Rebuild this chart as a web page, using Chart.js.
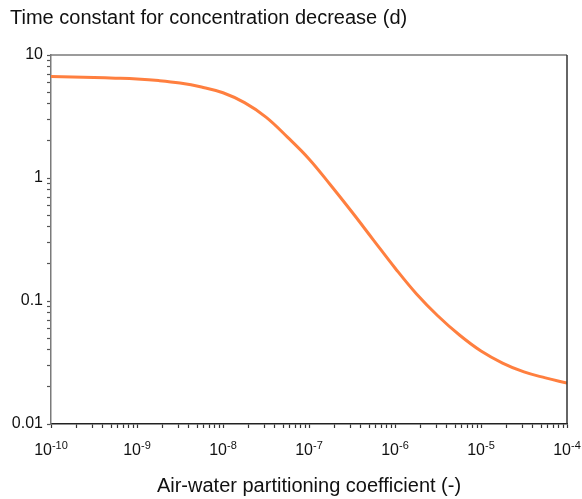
<!DOCTYPE html>
<html>
<head>
<meta charset="utf-8">
<script src="https://cdn.jsdelivr.net/npm/chart.js@4/dist/chart.umd.min.js"></script>
<style>
  html, body { margin: 0; padding: 0; background: #fff; }
  #wrap { width: 582px; height: 499px; }
</style>
</head>
<body>
<div id="wrap"><canvas id="tauChart"></canvas></div>
<script>
// Kaw values (-), quarter decades from 1e-10 to 1e-4
var kaw = [1e-10, 1.78e-10, 3.16e-10, 5.62e-10, 1e-9, 1.78e-9, 3.16e-9, 5.62e-9,
           1e-8, 1.78e-8, 3.16e-8, 5.62e-8, 1e-7, 1.78e-7, 3.16e-7, 5.62e-7,
           1e-6, 1.78e-6, 3.16e-6, 5.62e-6, 1e-5, 1.78e-5, 3.16e-5, 5.62e-5, 1e-4];
// time constant (d)
var tau = [6.69, 6.62, 6.55, 6.48, 6.38, 6.20, 5.92, 5.49,
           4.93, 4.10, 3.13, 2.15, 1.43, 0.877, 0.529, 0.313,
           0.1855, 0.114, 0.0755, 0.0529, 0.0392, 0.0313, 0.0265, 0.0237, 0.0215];

var xDecades = [1e-10, 1e-9, 1e-8, 1e-7, 1e-6, 1e-5, 1e-4];
var xExponents = ['-10', '-9', '-8', '-7', '-6', '-5', '-4'];
var yDecades = [0.01, 0.1, 1, 10];
var yLabels = ['0.01', '0.1', '1', '10'];
var minorSteps = [2, 3, 4, 5, 6, 7, 8, 9];

var FONT = '"Liberation Sans", Arial, sans-serif';

function logTicks(decades) {
    var out = [];
    decades.forEach(function(d, i) {
        out.push({ value: d, major: true });
        if (i < decades.length - 1) {
            minorSteps.forEach(function(m) { out.push({ value: d * m, major: false }); });
        }
    });
    return out;
}

function decadeIndex(list, v) {
    for (var i = 0; i < list.length; i++) {
        if (Math.abs(v / list[i] - 1) < 1e-6) return i;
    }
    return -1;
}

// frame on top/right + superscript labels on x axis
var framePlugin = {
    id: 'frame',
    afterDraw: function(chart) {
        var ctx = chart.ctx, a = chart.chartArea;
        ctx.save();
        ctx.lineWidth = 1.5;
        ctx.strokeStyle = '#7a7a7a';
        ctx.beginPath();
        ctx.moveTo(a.left, a.top);
        ctx.lineTo(a.right, a.top);
        ctx.stroke();
        ctx.strokeStyle = '#333';
        ctx.beginPath();
        ctx.moveTo(a.right, a.top);
        ctx.lineTo(a.right, a.bottom);
        ctx.stroke();

        var xs = chart.scales.x;
        ctx.fillStyle = '#111';
        ctx.textBaseline = 'alphabetic';
        xDecades.forEach(function(d, i) {
            var px = xs.getPixelForValue(d);
            ctx.font = '16px ' + FONT;
            var w1 = ctx.measureText('10').width;
            ctx.font = '11px ' + FONT;
            var w2 = ctx.measureText(xExponents[i]).width;
            var x0 = px - (w1 + w2) / 2;
            ctx.textAlign = 'left';
            ctx.font = '16px ' + FONT;
            ctx.fillText('10', x0, a.bottom + 31);
            ctx.font = '11px ' + FONT;
            ctx.fillText(xExponents[i], x0 + w1, a.bottom + 25);
        });
        ctx.restore();
    }
};

var ctx = document.getElementById('tauChart').getContext('2d');
var tauChart = new Chart(ctx, {
    type: 'line',
    data: {
        datasets: [{
            data: kaw.map(function(k, i) { return { x: k, y: tau[i] }; }),
            borderColor: '#ff7f3f',
            borderWidth: 3,
            pointRadius: 0,
            fill: false,
            tension: 0.4
        }]
    },
    options: {
        responsive: true,
        maintainAspectRatio: false,
        animation: false,
        layout: { padding: { left: 10, right: 15, top: 0, bottom: 0 } },
        plugins: {
            legend: { display: false },
            tooltip: { enabled: false },
            title: {
                display: true,
                text: 'Time constant for concentration decrease (d)',
                align: 'start',
                color: '#111',
                font: { family: FONT, size: 20, weight: 'normal', lineHeight: 1.2 },
                padding: { top: 6, bottom: 25 }
            }
        },
        scales: {
            x: {
                type: 'logarithmic',
                min: 1e-10,
                max: 1e-4,
                afterBuildTicks: function(scale) { scale.ticks = logTicks(xDecades); },
                afterFit: function(scale) { scale.height = 75; },
                ticks: {
                    autoSkip: false,
                    maxRotation: 0,
                    callback: function() { return ''; }
                },
                grid: {
                    drawOnChartArea: false,
                    drawTicks: true,
                    tickLength: 4,
                    color: '#333',
                    tickWidth: 1.2
                },
                border: { display: true, color: '#222', width: 1.5 },
                title: {
                    display: true,
                    text: 'Air-water partitioning coefficient (-)',
                    color: '#111',
                    font: { family: FONT, size: 20, lineHeight: 1.2 },
                    padding: { top: 0, bottom: 1 }
                }
            },
            y: {
                type: 'logarithmic',
                min: 0.01,
                max: 10,
                afterBuildTicks: function(scale) { scale.ticks = logTicks(yDecades); },
                afterFit: function(scale) { scale.width = 41; },
                ticks: {
                    autoSkip: false,
                    padding: 4,
                    color: '#111',
                    font: { family: FONT, size: 16 },
                    callback: function(v) {
                        var i = decadeIndex(yDecades, v);
                        return i >= 0 ? yLabels[i] : '';
                    }
                },
                grid: {
                    drawOnChartArea: false,
                    drawTicks: true,
                    tickLength: 4,
                    color: '#555',
                    tickWidth: 1.2
                },
                border: { display: true, color: '#7a7a7a', width: 1.5 }
            }
        }
    },
    plugins: [framePlugin]
});
</script>
</body>
</html>
